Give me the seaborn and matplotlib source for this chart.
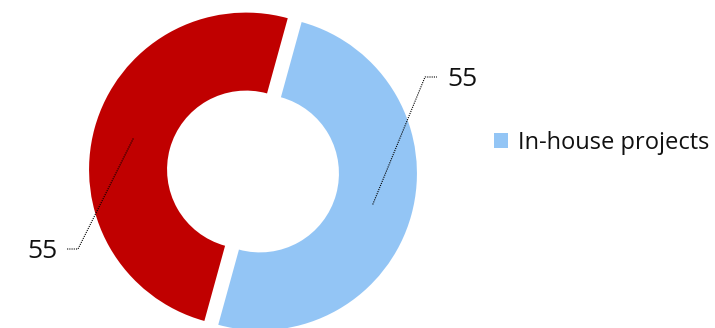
import numpy as np
import matplotlib.pyplot as plt
import seaborn as sns

sns.set_theme(style="white")
plt.rcParams['font.family'] = ['Open Sans', 'DejaVu Sans']

categories = ["In-house projects", "Other projects"]
values = [55, 55]
colors = ["#93C5F5", "#C00000"]
shown_in_legend = ["In-house projects"]

W, H = 715, 328
fig = plt.figure(figsize=(W / 100, H / 100), dpi=100)
ax = fig.add_axes([0, 0, 1, 1])

center = (253, H - 171.5)
R = 157.0
width = 78.0
start = 74.6
explode_px = 7.2

wedges, _ = ax.pie(values, colors=colors, startangle=start, counterclock=False,
                   radius=R, center=center, explode=[explode_px] * 2,
                   wedgeprops=dict(width=width, linewidth=0), frame=True)
ax.set_xlim(0, W)
ax.set_ylim(0, H)
ax.set_aspect("equal")
ax.axis("off")

# labels with dotted leader lines
label_pos = [((425, H - 77), (437, H - 77), (447, H - 79), "left"),
             ((78, H - 249), (66, H - 249), (58, H - 251), "right")]
for w, v, (elbow, end, txt, ha) in zip(wedges, values, label_pos):
    mid = np.deg2rad((w.theta1 + w.theta2) / 2)
    rr = R - width / 2 - 1
    ax_ = w.center[0] + rr * np.cos(mid)
    ay_ = w.center[1] + rr * np.sin(mid)
    ax.plot([ax_, elbow[0], end[0]], [ay_, elbow[1], end[1]],
            color="black", lw=0.8, ls=(0, (1, 1)))
    ax.text(txt[0], txt[1], str(v), fontsize=19, ha=ha, va="center", color="#111111")

handles = [wedges[categories.index(c)] for c in shown_in_legend]
leg = ax.legend(handles, shown_in_legend, loc="center left",
                bbox_to_anchor=(494 / W, (H - 143) / H),
                frameon=False, fontsize=17, handlelength=0.6, handleheight=0.6,
                handletextpad=0.4, borderpad=0, borderaxespad=0)
for t in leg.get_texts():
    t.set_color("#111111")

fig.savefig("out.png", dpi=100)
